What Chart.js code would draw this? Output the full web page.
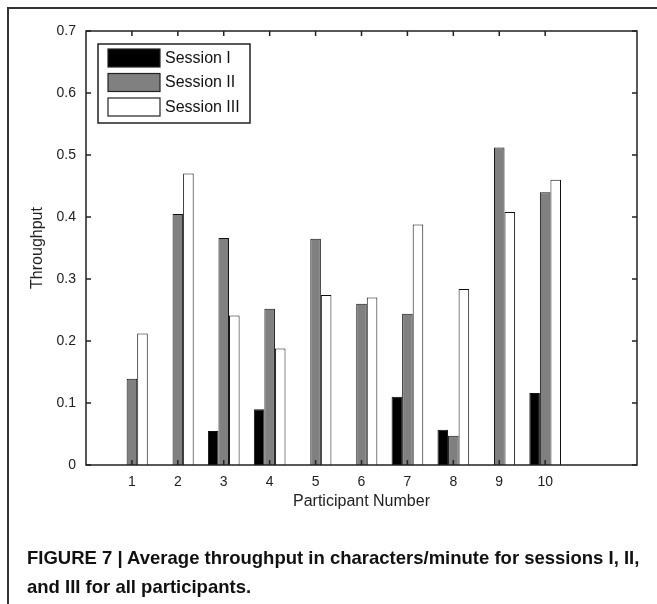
<!DOCTYPE html>
<html>
<head>
<meta charset="utf-8">
<script src="https://cdn.jsdelivr.net/npm/chart.js@4.4.1/dist/chart.umd.min.js"></script>
<style>
  html, body { margin: 0; padding: 0; background: #fff; }
  #wrap { position: relative; width: 657px; height: 604px; overflow: hidden; }
  #frame { position: absolute; left: 7px; top: 7px; width: 660px; height: 610px;
           border-left: 2px solid #333; border-top: 2px solid #333; }
  #chart { position: absolute; left: 0; top: 0; }
  #caption { position: absolute; left: 27px; top: 543px; width: 628px;
             font: bold 18.5px "Liberation Sans", Arial, sans-serif; line-height: 29px; color: #111; }
</style>
</head>
<body>
<div id="wrap">
  <div id="frame"></div>
  <canvas id="chart" width="657" height="604"></canvas>
  <div id="caption">FIGURE 7 | Average throughput in characters/minute for sessions I, II,<br>and III for all participants.</div>
</div>
<script>
var participants = [1, 2, 3, 4, 5, 6, 7, 8, 9, 10];
var sessionLabels = ['Session I', 'Session II', 'Session III'];
var session1 = [0, 0, 0.055, 0.090, 0, 0, 0.110, 0.057, 0, 0.116];
var session2 = [0.139, 0.405, 0.366, 0.252, 0.365, 0.260, 0.244, 0.047, 0.512, 0.440];
var session3 = [0.212, 0.470, 0.241, 0.188, 0.274, 0.270, 0.388, 0.284, 0.408, 0.460];
var yTicks = [0, 0.1, 0.2, 0.3, 0.4, 0.5, 0.6, 0.7];

var fills = ['#000000', '#808080', '#ffffff'];
var font = '"Liberation Sans", Arial, sans-serif';

function points(values) {
    return participants.map(function (p, i) { return { x: p, y: values[i] }; });
}

var series = [session1, session2, session3];
var datasets = series.map(function (vals, i) {
    return {
        label: sessionLabels[i],
        data: points(vals),
        backgroundColor: fills[i],
        borderColor: '#111',
        borderWidth: 1,
        borderSkipped: 'start',
        categoryPercentage: 0.69,
        barPercentage: 1.0
    };
});

// matlab style box: frame, inward ticks and legend inside the axes
var matlabBox = {
    id: 'matlabBox',
    afterDraw: function (c) {
        var ctx = c.ctx, a = c.chartArea;
        var xs = c.scales.x, ys = c.scales.y;
        ctx.save();
        ctx.strokeStyle = '#222';
        ctx.lineWidth = 1.5;
        ctx.strokeRect(a.left, a.top, a.right - a.left, a.bottom - a.top);
        ctx.beginPath();
        var len = 5;
        xs.ticks.forEach(function (t) {
            var px = xs.getPixelForValue(t.value);
            ctx.moveTo(px, a.bottom); ctx.lineTo(px, a.bottom - len);
            ctx.moveTo(px, a.top); ctx.lineTo(px, a.top + len);
        });
        ys.ticks.forEach(function (t) {
            var py = ys.getPixelForValue(t.value);
            ctx.moveTo(a.left, py); ctx.lineTo(a.left + len, py);
            ctx.moveTo(a.right, py); ctx.lineTo(a.right - len, py);
        });
        ctx.stroke();

        // legend
        var bx = a.left + 12, by = a.top + 13, bw = 152, bh = 79;
        ctx.fillStyle = '#fff';
        ctx.fillRect(bx, by, bw, bh);
        ctx.lineWidth = 1.5;
        ctx.strokeStyle = '#222';
        ctx.strokeRect(bx, by, bw, bh);
        ctx.font = '16px ' + font;
        ctx.textBaseline = 'middle';
        c.data.datasets.forEach(function (ds, i) {
            var sy = by + 5 + i * 24.5;
            ctx.fillStyle = ds.backgroundColor;
            ctx.fillRect(bx + 10, sy, 52, 18);
            ctx.lineWidth = 1.2;
            ctx.strokeStyle = '#222';
            ctx.strokeRect(bx + 10, sy, 52, 18);
            ctx.fillStyle = '#111';
            ctx.fillText(ds.label, bx + 67, sy + 9.5);
        });
        ctx.restore();
    }
};

var chart = new Chart(document.getElementById('chart').getContext('2d'), {
    type: 'bar',
    data: { datasets: datasets },
    options: {
        responsive: false,
        animation: false,
        layout: { padding: { left: 0, top: 31, right: 20, bottom: 0 } },
        plugins: {
            legend: { display: false },
            tooltip: { enabled: false }
        },
        scales: {
            x: {
                type: 'linear',
                min: 0,
                max: 12,
                offset: false,
                grid: { display: false, offset: false },
                border: { display: false },
                afterBuildTicks: function (s) {
                    s.ticks = participants.map(function (p) { return { value: p }; });
                },
                afterFit: function (s) { s.height = 139; },
                ticks: {
                    padding: 1,
                    color: '#222',
                    font: { family: font, size: 14 },
                    maxRotation: 0,
                    autoSkip: false,
                    callback: function (v) { return String(v); }
                },
                title: {
                    display: true,
                    text: 'Participant Number',
                    color: '#222',
                    font: { family: font, size: 16 },
                    padding: { top: 0, bottom: 93 }
                }
            },
            y: {
                min: 0,
                max: 0.7,
                grid: { display: false },
                border: { display: false },
                afterBuildTicks: function (s) {
                    s.ticks = yTicks.map(function (v) { return { value: v }; });
                },
                afterFit: function (s) { s.width = 86; },
                ticks: {
                    padding: 2,
                    color: '#222',
                    font: { family: font, size: 14 },
                    callback: function (v) { return v === 0 ? '0' : v.toFixed(1); }
                },
                title: {
                    display: true,
                    text: 'Throughput',
                    color: '#222',
                    font: { family: font, size: 16 },
                    padding: { top: 28, bottom: 0 }
                }
            }
        }
    },
    plugins: [matlabBox]
});
</script>
</body>
</html>
